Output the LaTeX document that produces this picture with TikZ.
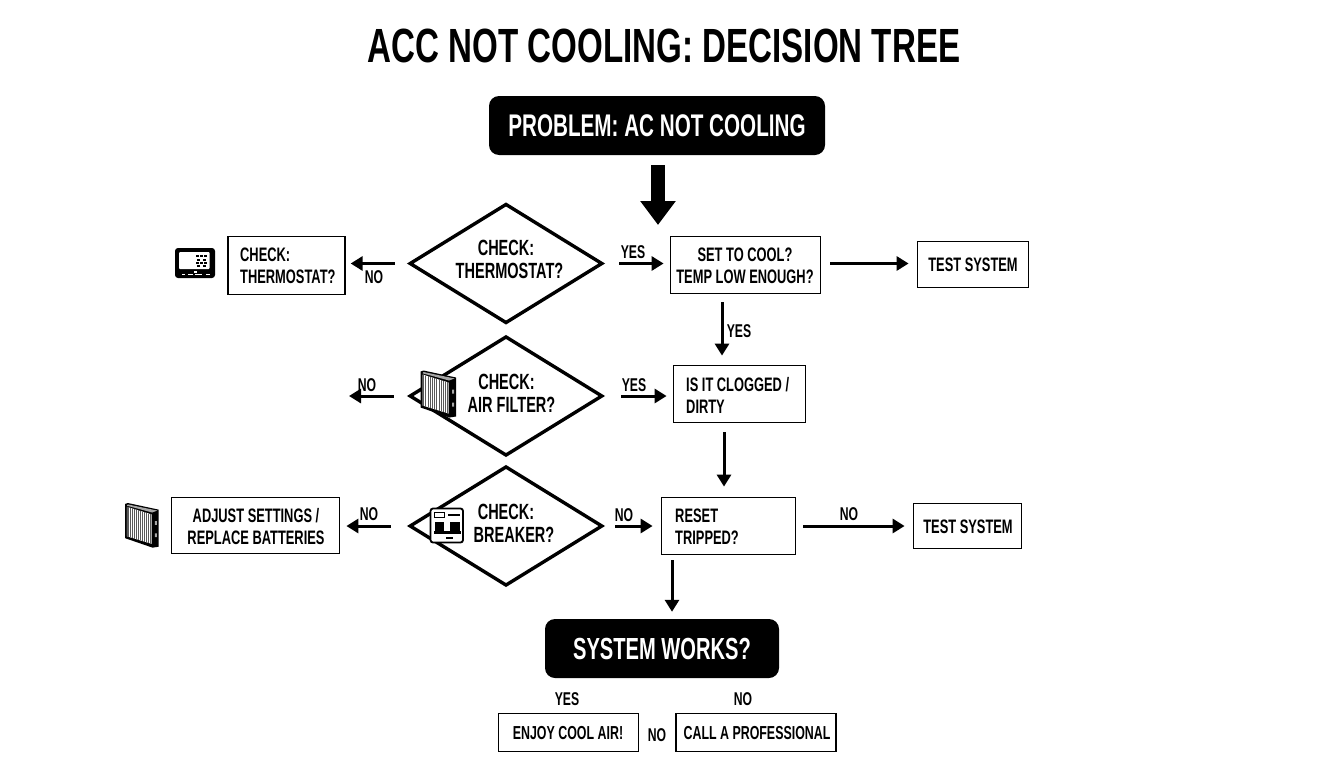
\documentclass[tikz,border=0pt]{standalone}
\usepackage{fontspec}
\setmainfont{Liberation Sans}[BoldFont=Liberation Sans Bold]
\newfontfamily\cond{Liberation Sans Bold}[FakeStretch=0.66]
\newfontfamily\condwide{Liberation Sans Bold}[FakeStretch=0.69]
\usetikzlibrary{arrows.meta,shapes.geometric}
\tikzset{
  txt/.style={font=\cond\fontsize{19.5}{22}\selectfont,inner sep=0,align=center,text=black},
  dtxt/.style={font=\cond\fontsize{22}{23}\selectfont,inner sep=0,align=center,text=black},
  txtl/.style={txt,align=left,anchor=west},
  lab/.style={font=\cond\fontsize{18.5}{20}\selectfont,inner sep=0},
  box/.style={draw=black,line width=1.8pt,fill=white,rectangle,inner sep=0},
  dark/.style={fill=black,rounded corners=10pt,rectangle,inner sep=0,text=white},
  dec/.style={draw=black,line width=3.4pt,fill=white,shape=diamond,aspect=1.62,minimum width=193pt,minimum height=119.5pt,inner sep=0},
  arr/.style={draw=black,line width=3pt,-{Triangle[length=12pt,width=14pt]}},
  bigarr/.style={draw=black,line width=14pt,-{Triangle[length=24pt,width=34pt]}},
  pics/filter/.style={code={
    \fill[black] (0,1) -- (3,0) -- (35.5,7) -- (35.5,46) -- (29,47) -- (0,37) -- cycle;
    \fill[white] (2,4) -- (28,12) -- (28,43) -- (2,35) -- cycle;
    \foreach \s in {3.2,5.4,7.6,9.8,12,14.2,16.4,18.6,20.8,23,25.2,27.2}{
      \draw[black!65,line width=1.1pt] (\s,{4+(\s-2)*.31}) -- (\s,{35+(\s-2)*.31});}
    \fill[white!65!black] (3,1.5) -- (34,8) -- (28.5,10) -- (2,2.8) -- cycle;
    \fill[white!65!black] (31.5,19) rectangle (33.5,23) (31.5,32) rectangle (33.5,36);
  }},
}
\begin{document}
\begin{tikzpicture}[x=1pt,y=-1pt]
\useasboundingbox (0,0) rectangle (1344,768);
\fill[white] (0,0) rectangle (1344,768);

\node[inner sep=0,font=\condwide\fontsize{48}{50}\selectfont] (title) at (664,46) {ACC NOT COOLING: DECISION TREE};

\node[dark,minimum width=336pt,minimum height=59pt,font=\cond\fontsize{31.3}{34}\selectfont] (prob) at (657,125.5) {PROBLEM: AC NOT COOLING};

% decisions
\node[dec] (d1) at (506,263.5) {};
\node[dec] (d2) at (506,396) {};
\node[dec] (d3) at (506,526) {};
\node[dtxt] (d1t) at (509.5,259.5) {\hspace*{-7pt}CHECK:\\THERMOSTAT?};
\node[dtxt] (d2t) at (511.5,393) {\hspace*{-10pt}CHECK:\\AIR FILTER?};
\node[dtxt] (d3t) at (514,523.5) {\hspace*{-16pt}CHECK:\\BREAKER?};

% boxes
\node[box,minimum width=116.5pt,minimum height=58pt] (c1) at (286.5,265.5) {};
\node[txtl] (c1t) at (240,266) {CHECK:\\THERMOSTAT?};
\node[box,minimum width=150pt,minimum height=57pt] (b1) at (745.5,265) {};
\node[txt] (b1t) at (745,266) {SET TO COOL?\\TEMP LOW ENOUGH?};
\node[box,minimum width=111pt,minimum height=46pt] (t1) at (973,264.5) {};
\node[txt] (t1t) at (973,265) {TEST SYSTEM};
\node[box,minimum width=132pt,minimum height=57pt] (b2) at (739.5,394) {};
\node[txtl] (b2t) at (686,395) {IS IT CLOGGED /\\DIRTY};
\node[box,minimum width=168pt,minimum height=56pt] (c3) at (255.5,525.5) {};
\node[txt] (c3t) at (256,526.5) {ADJUST SETTINGS /\\REPLACE BATTERIES};
\node[box,minimum width=134pt,minimum height=57pt] (b3) at (728.5,526) {};
\node[txtl] (b3t) at (675,526.5) {RESET\\TRIPPED?};
\node[box,minimum width=108pt,minimum height=45pt] (t3) at (967.5,526) {};
\node[txt] (t3t) at (968,526.5) {TEST SYSTEM};

\node[dark,minimum width=234pt,minimum height=59pt,font=\cond\fontsize{30.5}{34}\selectfont] (sys) at (662,648.5) {SYSTEM WORKS?};
\node[box,minimum width=140pt,minimum height=38pt] (e) at (568.5,732.5) {};
\node[txt,font=\cond\fontsize{18.8}{22}\selectfont] (et) at (568,733) {ENJOY COOL AIR!};
\node[box,minimum width=159.5pt,minimum height=38pt] (p) at (756,732.5) {};
\node[txt,font=\cond\fontsize{18.8}{22}\selectfont] (pt) at (757,733) {CALL A PROFESSIONAL};

% free ends
\coordinate (bigend) at (658,225);
\coordinate (d2no) at (349,396);

% connectors
\draw[bigarr,shorten <=10pt] ([xshift=1pt]prob.south) -- (bigend);
\draw[arr,shorten <=13pt,shorten >=5pt] (d1.west) -- (d1.west -| c1.east);
\draw[arr,shorten <=15pt,shorten >=6pt] (d1.east) -- (d1.east -| b1.west);
\draw[arr,shorten <=9pt,shorten >=8pt] (b1.east |- d1.east) -- (d1.east -| t1.west);
\draw[arr,shorten <=8pt,shorten >=9pt] ([xshift=-23.5pt]b1.south) -- ([xshift=-17.5pt]b2.north);
\draw[arr,shorten <=14pt] (d2.west) -- (d2no);
\draw[arr,shorten <=17pt,shorten >=6pt] (d2.east) -- (d2.east -| b2.west);
\draw[arr,shorten <=9pt,shorten >=10pt] ([xshift=-15.5pt]b2.south) -- ([xshift=-4.5pt]b3.north);
\draw[arr,shorten <=17pt,shorten >=6pt] (d3.west) -- (d3.west -| c3.east);
\draw[arr,shorten <=11pt,shorten >=8pt] (d3.east) -- (d3.east -| b3.west);
\draw[arr,shorten <=7pt,shorten >=8pt] (b3.east) -- (t3.west);
\draw[arr,shorten <=5pt,shorten >=7pt] ([xshift=-56.5pt]b3.south) -- ([xshift=10pt]sys.north);

% connector labels
\node[lab] (l1) at (374,277) {NO};
\node[lab] (l2) at (633,252) {YES};
\node[lab] (l3) at (739,331) {YES};
\node[lab] (l4) at (367,385) {NO};
\node[lab] (l5) at (634,385) {YES};
\node[lab] (l6) at (369,514) {NO};
\node[lab] (l7) at (624,515) {NO};
\node[lab] (l8) at (849,514) {NO};
\node[lab] (l9) at (567,699) {YES};
\node[lab] (l10) at (743,699) {NO};
\node[lab] (l11) at (657,735) {NO};

% thermostat icon
\fill[black,rounded corners=3pt] (175,248) rectangle (215,278);
\fill[white,rounded corners=1pt] (179,252) rectangle (209.5,269);
\foreach \px/\py in {196/255,200/255,204/255,197/258.5,203/258.5,196/262,200/262,204/262,197/265,203/265}
  \fill[black] (\px,\py) rectangle +(3,2.3);
\foreach \px/\wd in {182/3,188/5,195/7,206/3.5}
  \fill[white] (\px,273.5) rectangle +(\wd,1.8);
\fill[white] (194,271) rectangle +(3,1.5);

% filter icons
\pic at (420.5,370.5) {filter};
\pic[scale=.95] at (125,503) {filter};

% breaker icon
\draw[black,line width=1.8pt,fill=white,rounded corners=2.5pt] (430.5,508.5) rectangle (463,542.5);
\draw[black,line width=.8pt] (434.5,512.5) rectangle (444.5,517);
\fill[black] (448,513.5) rectangle (459.5,515.5);
\fill[black] (435,522) rectangle (443.5,532);
\fill[black] (450,522) rectangle (459.5,532);
\fill[black] (434,531) rectangle (460.5,533.5);
\fill[black] (446,537) rectangle (453,538.5);
\end{tikzpicture}
\end{document}
